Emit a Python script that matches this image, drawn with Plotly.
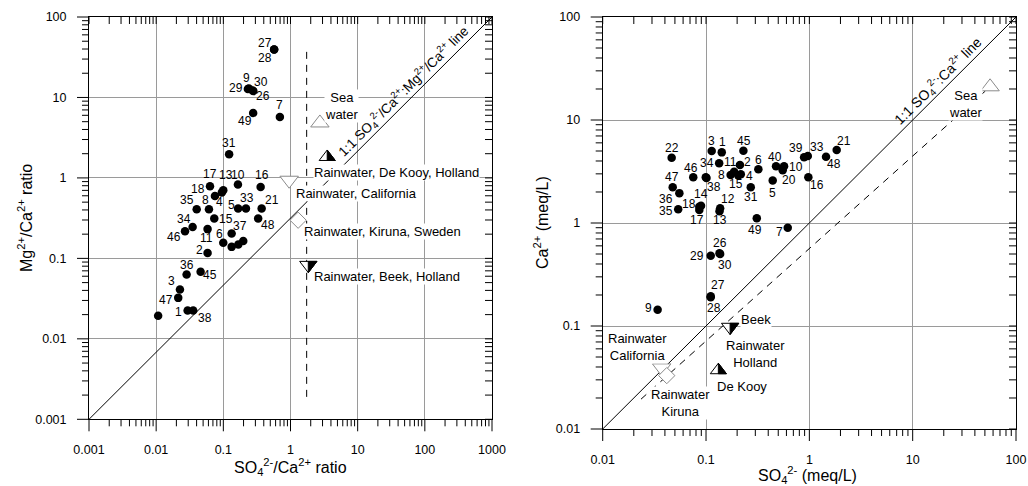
import math
import plotly.graph_objects as go

# ---------------- data ----------------
# Left panel: SO4/Ca ratio (x) versus Mg/Ca ratio (y)
left_labels = ["1", "38", "47", "3", "36", "45", "", "2", "46", "34",
               "11", "6", "37", "", "", "", "15", "48", "35", "8",
               "5", "33", "21", "17", "18", "13", "4", "10", "16", "31",
               "49", "7", "9", "29", "30", "26", "27", "28"]
left_so4_ca = [0.0294, 0.0356, 0.0213, 0.0226, 0.0284, 0.0459, 0.0107, 0.0583, 0.0269, 0.0349,
               0.0583, 0.0998, 0.133, 0.133, 0.167, 0.198, 0.0733, 0.330, 0.0401, 0.0611,
               0.166, 0.217, 0.372, 0.0633, 0.075, 0.0998, 0.095, 0.165, 0.359, 0.122,
               0.278, 0.695, 0.240, 0.232, 0.273, 0.280, 0.571, 0.571]
left_mg_ca = [0.0225, 0.0225, 0.0323, 0.0411, 0.0631, 0.068, 0.0193, 0.117, 0.218, 0.246,
              0.231, 0.156, 0.204, 0.139, 0.149, 0.164, 0.313, 0.313, 0.408, 0.408,
              0.417, 0.417, 0.417, 0.789, 0.597, 0.703, 0.66, 0.828, 0.773, 1.97,
              6.42, 5.73, 12.9, 12.7, 12.2, 12.0, 39.4, 39.4]

left_ref_names = ["Sea<br>water", "Rainwater, De Kooy, Holland", "Rainwater, California",
                  "Rainwater, Kiruna, Sweden", "Rainwater, Beek, Holland"]
left_ref_x = [2.74, 3.52, 0.955, 1.30, 1.84]
left_ref_y = [4.82, 1.82, 0.936, 0.298, 0.0824]

left_one_x = [0.001, 1000]
left_one_y = [0.001, 100]
left_dash_x = [1.74, 1.74]
left_dash_y = [0.0019, 38.5]

left_xticks = [0.001, 0.01, 0.1, 1, 10, 100, 1000]
left_xtext = ["0.001", "0.01", "0.1", "1", "10", "100", "1000"]
left_yticks = [0.001, 0.01, 0.1, 1, 10, 100]
left_ytext = ["0.001", "0.01", "0.1", "1", "10", "100"]

# Right panel: SO4 (meq/L) versus Ca (meq/L)
right_labels = ["22", "3", "1", "45", "46", "34", "38", "11", "2", "",
                "8", "4", "15", "6", "31", "40", "10", "20", "5", "39",
                "33", "21", "48", "16", "47", "36", "35", "18", "14", "17",
                "12", "13", "49", "7", "26", "30", "29", "27", "28", "9"]
right_so4 = [0.0465, 0.1135, 0.142, 0.230, 0.0752, 0.0995, 0.101, 0.134, 0.213, 0.187,
             0.173, 0.217, 0.205, 0.321, 0.271, 0.476, 0.569, 0.552, 0.442, 0.889,
             0.966, 1.84, 1.45, 0.978, 0.0476, 0.0552, 0.0538, 0.0861, 0.0895, 0.0861,
             0.137, 0.135, 0.31, 0.618, 0.135, 0.137, 0.111, 0.111, 0.111, 0.034]
right_ca = [4.31, 5.0, 4.85, 5.03, 2.78, 2.78, 2.74, 3.80, 3.66, 3.15,
            2.92, 2.97, 2.90, 3.32, 2.22, 3.55, 3.55, 3.25, 2.58, 4.34,
            4.47, 5.11, 4.40, 2.78, 2.22, 1.95, 1.36, 1.44, 1.47, 1.34,
            1.39, 1.30, 1.11, 0.90, 0.509, 0.50, 0.480, 0.194, 0.19, 0.144]

right_ref_names = ["Sea<br>water", "De Kooy", "Rainwater<br>California", "Rainwater<br>Kiruna", "Beek"]
right_ref_x = [56.1, 0.1316, 0.0372, 0.0417, 0.171]
right_ref_y = [21.0, 0.0372, 0.0392, 0.033, 0.0977]

right_one_x = [0.01, 100]
right_one_y = [0.01, 100]
right_mix_x = [0.0235, 56.1]
right_mix_y = [0.0195, 21.0]

right_xticks = [0.01, 0.1, 1, 10, 100]
right_xtext = ["0.01", "0.1", "1", "10", "100"]
right_yticks = [0.01, 0.1, 1, 10, 100]
right_ytext = ["0.01", "0.1", "1", "10", "100"]

# ---------------- layout geometry (pixels) ----------------
W, H = 1028, 486
ML, MR, MT, MB = 89, 12, 17, 57
PW, PH = W - ML - MR, H - MT - MB
L_XDOM = [0, 403 / PW]
L_YDOM = [9.7 / PH, 1]
R_XDOM = [513.7 / PW, 1]
R_YDOM = [0, 1]
L_XLEN = (L_XDOM[1] - L_XDOM[0]) * PW
L_YLEN = (L_YDOM[1] - L_YDOM[0]) * PH
R_XLEN = (R_XDOM[1] - R_XDOM[0]) * PW
R_YLEN = (R_YDOM[1] - R_YDOM[0]) * PH
L_PXX, L_PXY = L_XLEN / 6, L_YLEN / 5
R_PXX, R_PXY = R_XLEN / 4, R_YLEN / 4

FONT = "Liberation Sans, Arial, sans-serif"
GRID = "#9a9a9a"
OPEN_EDGE = "#8a8a8a"

# label offsets (px, right / down) for the numbered points
left_off = {"1": (-9, 1), "38": (12, 7), "47": (-12, 2), "3": (-8, -8), "36": (0, -9), "45": (9, 3),
            "2": (-8, -3), "46": (-11, 6), "34": (-9, -8), "11": (-1, 9), "6": (-4, -9), "37": (8, -7),
            "15": (12, 0), "48": (10, 6), "35": (-10, -9), "8": (-3, -9), "5": (-7, -3), "33": (1, -10),
            "21": (10, -8), "17": (0, -12), "18": (-17, -7), "13": (3, -15), "4": (-2, 10), "10": (0, -10),
            "16": (1, -12), "31": (0, -11), "49": (-8, 8), "7": (0, -12), "9": (-2, -11), "29": (-12, -1),
            "30": (8, -9), "26": (10, 5), "27": (-9, -7), "28": (-9, 8)}
right_off = {"22": (0, -10), "3": (0, -10), "1": (1, -10), "45": (1, -10), "46": (-2, -9), "34": (1, -14),
             "38": (8, 9), "11": (11, -1), "2": (8, -3), "8": (-9, 0), "4": (9, 2), "15": (-2, 9),
             "6": (0, -9), "31": (0, 10), "40": (-1, -9), "10": (12, 1), "20": (6, 10), "5": (0, 12),
             "39": (-8, -9), "33": (9, -9), "21": (7, -9), "48": (8, 7), "16": (9, 8), "47": (-1, -10),
             "36": (-13, 6), "35": (-12, 2), "18": (-10, -3), "14": (0, -12), "17": (-2, 10),
             "12": (8, -9), "13": (1, 9), "49": (-2, 12), "7": (-8, 4), "26": (1, -10), "30": (5, 11),
             "29": (-14, 0), "27": (7, -11), "28": (3, 11), "9": (-9, -2)}

# reference marker styles: symbol, size, edge colour, half-black?
ref_style = [("triangle-up", 16, OPEN_EDGE, False), ("triangle-up", 14, "black", True),
             ("triangle-down", 16, OPEN_EDGE, False), ("diamond", 12.5, OPEN_EDGE, False),
             ("triangle-down", 15, "black", True)]
# label placement for reference markers (dx, dy, xanchor)
left_ref_lab = [(21.7, -17.2, "center"), (-14.6, 15.6, "left"), (5.7, 13.3, "left"),
                (4.7, 11, "left"), (4.7, 11, "left")]
right_ref_lab = [(-25, 17.5, "center"), (23.4, 16.6, "center"), (-23.7, -21.3, "center"),
                 (13.3, 27.3, "center"), (10, -7.3, "left")]


def half_black(xc, yc, size, up, pxx, pxy):
    r = size / 2.0
    rt = r * 2 / math.sqrt(3)
    if up:
        pts = [(0, -r), (0, r / 2), (rt, r / 2)]
    else:
        pts = [(0, -r / 2), (rt, -r / 2), (0, r)]
    xs = [xc * 10 ** (dx / pxx) for dx, dy in pts]
    ys = [yc * 10 ** (-dy / pxy) for dx, dy in pts]
    return xs + [xs[0]], ys + [ys[0]]


fig = go.Figure()

# 1:1 lines and dashed lines
fig.add_trace(go.Scatter(x=left_one_x, y=left_one_y, mode="lines", line=dict(color="black", width=1),
                         xaxis="x", yaxis="y", hoverinfo="skip", showlegend=False))
fig.add_trace(go.Scatter(x=left_dash_x, y=left_dash_y, mode="lines",
                         line=dict(color="black", width=1, dash="7px,6px"),
                         xaxis="x", yaxis="y", hoverinfo="skip", showlegend=False))
fig.add_trace(go.Scatter(x=right_one_x, y=right_one_y, mode="lines", line=dict(color="black", width=1),
                         xaxis="x2", yaxis="y2", hoverinfo="skip", showlegend=False))
fig.add_trace(go.Scatter(x=right_mix_x, y=right_mix_y, mode="lines",
                         line=dict(color="black", width=1, dash="7px,6px"),
                         xaxis="x2", yaxis="y2", hoverinfo="skip", showlegend=False))

# samples
fig.add_trace(go.Scatter(x=left_so4_ca, y=left_mg_ca, mode="markers", text=left_labels,
                         marker=dict(color="black", size=8.5), xaxis="x", yaxis="y", showlegend=False))
fig.add_trace(go.Scatter(x=right_so4, y=right_ca, mode="markers", text=right_labels,
                         marker=dict(color="black", size=8.5), xaxis="x2", yaxis="y2", showlegend=False))

# reference waters
for xs_, ys_, xa, ya, pxx, pxy in [(left_ref_x, left_ref_y, "x", "y", L_PXX, L_PXY),
                                   (right_ref_x, right_ref_y, "x2", "y2", R_PXX, R_PXY)]:
    for xv, yv, (sym, sz, edge, half) in zip(xs_, ys_, ref_style):
        fig.add_trace(go.Scatter(x=[xv], y=[yv], mode="markers", xaxis=xa, yaxis=ya, showlegend=False,
                                 marker=dict(symbol=sym, size=sz, color="white",
                                             line=dict(color=edge, width=1))))
        if half:
            hx, hy = half_black(xv, yv, sz, sym == "triangle-up", pxx, pxy)
            fig.add_trace(go.Scatter(x=hx, y=hy, mode="lines", fill="toself", fillcolor="black",
                                     line=dict(color="black", width=1), xaxis=xa, yaxis=ya,
                                     hoverinfo="skip", showlegend=False))


def main_axis(rng, tv, tt, dom, anchor):
    # plotly's own tick marks are kept (transparent) only to space the tick labels;
    # the visible tick marks are drawn as axis-domain shapes below
    return dict(type="log", range=rng, domain=dom, anchor=anchor, tickmode="array", tickvals=tv,
                ticktext=tt, ticks="outside", ticklen=12, tickwidth=1, tickcolor="rgba(0,0,0,0)",
                showline=True, linecolor="black", linewidth=1, mirror=True, automargin=False,
                showgrid=True, gridcolor=GRID, gridwidth=1, zeroline=False,
                tickfont=dict(family=FONT, size=12.5, color="black"), ticklabelstandoff=7)


def tick_shapes(axname, lo, hi, along_len, cross_len, horizontal):
    """Tick marks on one panel axis: major/minor outside on bottom/left, small inside on top/right."""
    shapes = []
    other = {"x": "y", "x2": "y2", "y": "x", "y2": "x2"}[axname]
    for d in range(lo, hi + 1):
        for k in range(1, 10):
            if d == hi and k > 1:
                break
            f = (math.log10(k * 10 ** d) - lo) / (hi - lo)
            out_len = (12 if k == 1 else 7) / cross_len
            in_len = 7 / cross_len
            line = dict(color="black", width=1)
            if horizontal:  # x axis: vary x, ticks along y
                shapes.append(dict(type="line", xref=axname + " domain", yref=other + " domain",
                                   x0=f, x1=f, y0=0, y1=-out_len, line=line, layer="above"))
                shapes.append(dict(type="line", xref=axname + " domain", yref=other + " domain",
                                   x0=f, x1=f, y0=1, y1=1 - in_len, line=line, layer="above"))
            else:
                shapes.append(dict(type="line", xref=other + " domain", yref=axname + " domain",
                                   y0=f, y1=f, x0=0, x1=-out_len, line=line, layer="above"))
                shapes.append(dict(type="line", xref=other + " domain", yref=axname + " domain",
                                   y0=f, y1=f, x0=1, x1=1 - in_len, line=line, layer="above"))
    return shapes


shapes = []
shapes += tick_shapes("x", -3, 3, L_XLEN, L_YLEN, True)
shapes += tick_shapes("y", -3, 2, L_YLEN, L_XLEN, False)
shapes += tick_shapes("x2", -2, 2, R_XLEN, R_YLEN, True)
shapes += tick_shapes("y2", -2, 2, R_YLEN, R_XLEN, False)

annotations = []


def num_label(text, xv, yv, xref, yref, dx, dy):
    annotations.append(dict(text=text, x=math.log10(xv), y=math.log10(yv), xref=xref, yref=yref,
                            showarrow=False, xshift=dx, yshift=-dy, xanchor="center", yanchor="middle",
                            font=dict(family=FONT, size=12, color="black")))


for t, xv, yv in zip(left_labels, left_so4_ca, left_mg_ca):
    if t:
        dx, dy = left_off[t]
        num_label(t, xv, yv, "x", "y", dx, dy)
for t, xv, yv in zip(right_labels, right_so4, right_ca):
    if t:
        dx, dy = right_off[t]
        num_label(t, xv, yv, "x2", "y2", dx, dy)

for names, xs_, ys_, labs, xr, yr in [(left_ref_names, left_ref_x, left_ref_y, left_ref_lab, "x", "y"),
                                      (right_ref_names, right_ref_x, right_ref_y, right_ref_lab, "x2", "y2")]:
    for nm, xv, yv, (dx, dy, anc) in zip(names, xs_, ys_, labs):
        annotations.append(dict(text=nm, x=math.log10(xv), y=math.log10(yv), xref=xr, yref=yr,
                                showarrow=False, xshift=dx, yshift=-dy, xanchor=anc, yanchor="middle",
                                align="center", bgcolor="white", borderpad=0,
                                font=dict(family=FONT, size=13, color="black")))
# "Rainwater Holland" caption shared by the Beek / De Kooy symbols (right panel)
annotations.append(dict(text="Rainwater<br>Holland", x=math.log10(right_ref_x[4]), y=math.log10(right_ref_y[4]),
                        xref="x2", yref="y2", showarrow=False, xshift=25, yshift=-27.2,
                        xanchor="center", yanchor="middle", align="center", bgcolor="white", borderpad=0,
                        font=dict(family=FONT, size=13, color="black")))

# 1:1 line captions
annotations.append(dict(text="1:1 SO<sub>4</sub><sup>2-</sup>/Ca<sup>2+</sup>:Mg<sup>2+</sup>/Ca<sup>2+</sup> line",
                        x=math.log10(48.7), y=math.log10(11.9), xref="x", yref="y", showarrow=False,
                        textangle=-45, font=dict(family=FONT, size=13.5, color="black")))
annotations.append(dict(text="1:1 SO<sub>4</sub><sup>2-</sup>:Ca<sup>2+</sup> line",
                        x=math.log10(17.6), y=math.log10(23.8), xref="x2", yref="y2", showarrow=False,
                        textangle=-45, font=dict(family=FONT, size=14, color="black")))


def px_x(p):  # screen pixel -> paper fraction
    return (p - ML) / PW


def px_y(p):
    return (H - MB - p) / PH


TF = dict(family=FONT, size=16, color="black")
for txt, xp, yp, ang in [("Mg<sup>2+</sup>/Ca<sup>2+</sup> ratio", 25, 218, -90),
                         ("SO<sub>4</sub><sup>2-</sup>/Ca<sup>2+</sup> ratio", 290.5, 467, 0),
                         ("Ca<sup>2+</sup> (meq/L)", 541, 223, -90),
                         ("SO<sub>4</sub><sup>2-</sup> (meq/L)", 807, 474.5, 0)]:
    annotations.append(dict(text=txt, x=px_x(xp), y=px_y(yp), xref="paper", yref="paper",
                            xanchor="center", yanchor="middle", showarrow=False, textangle=ang, font=TF))

fig.update_layout(
    template="none",
    width=W, height=H, margin=dict(l=ML, r=MR, t=MT, b=MB, autoexpand=False),
    paper_bgcolor="white", plot_bgcolor="white", showlegend=False,
    font=dict(family=FONT, color="black"),
    xaxis=main_axis([-3, 3], left_xticks, left_xtext, L_XDOM, "y"),
    yaxis=main_axis([-3, 2], left_yticks, left_ytext, L_YDOM, "x"),
    xaxis2=main_axis([-2, 2], right_xticks, right_xtext, R_XDOM, "y2"),
    yaxis2=main_axis([-2, 2], right_yticks, right_ytext, R_YDOM, "x2"),
    annotations=annotations,
    shapes=shapes,
)

# remove the browser's default page margin so the figure sits at the window origin
fig.write_html("out.html", config={"displayModeBar": False},
               post_script="document.body.style.margin='0px';")
